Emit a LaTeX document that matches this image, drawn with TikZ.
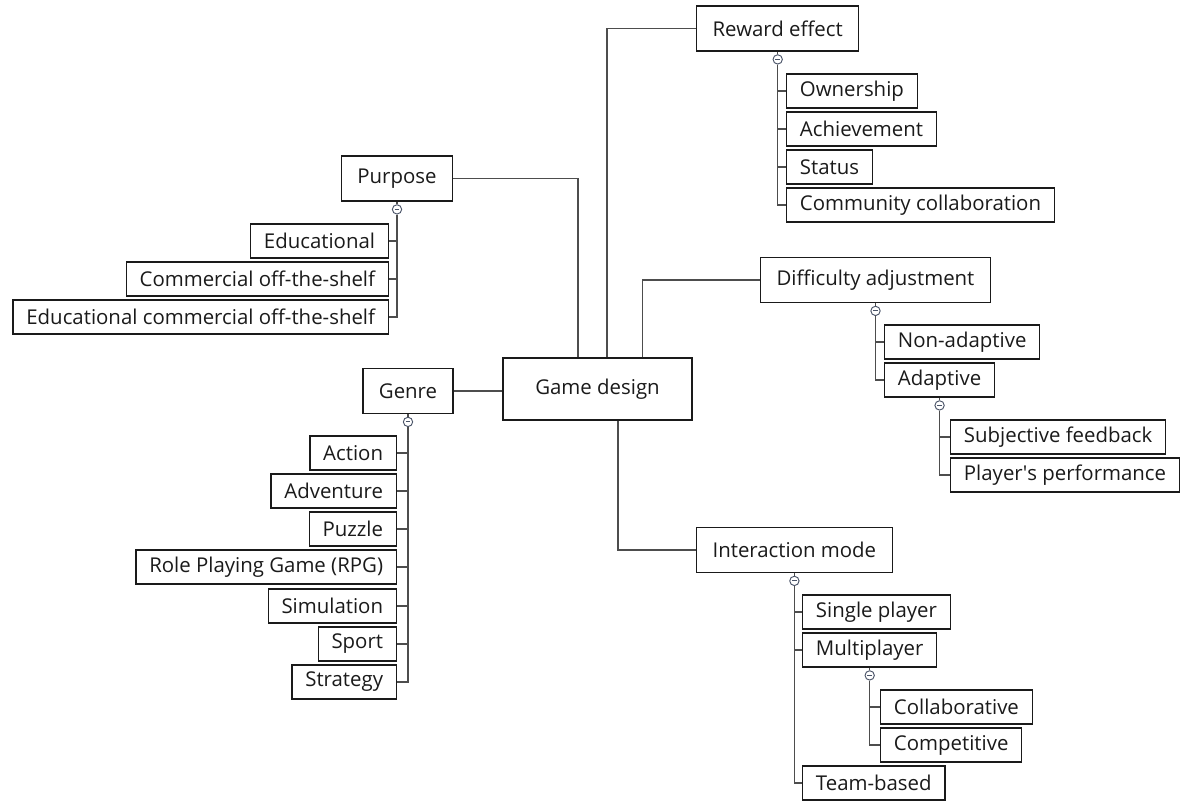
\documentclass[tikz,border=0pt]{standalone}
\usepackage{fontspec}
\setmainfont{Open Sans}
\usetikzlibrary{positioning}
\definecolor{mapInk}{HTML}{1A1A1A}
\definecolor{mapLine}{HTML}{4D4D4D}
\definecolor{mapToggle}{HTML}{4A5468}
\tikzset{
  every picture/.style={font=\fontsize{15.3}{18}\selectfont, text=mapInk},
  map core/.style={draw=mapInk, line width=0.9pt, minimum width=141.75pt,
    minimum height=46.5pt},
  map topic/.style={draw=mapInk, line width=0.9pt, minimum height=33.75pt,
    inner xsep=12pt},
  map leaf/.style={draw=mapInk, line width=0.9pt, minimum height=25.5pt,
    inner xsep=10pt},
  map link/.style={draw=mapLine, line width=0.9pt},
  map toggle/.style={circle, draw=mapToggle, fill=white, line width=0.7pt,
    inner sep=0pt, minimum size=7pt,
    path picture={\draw[mapToggle, line width=0.7pt]
      ([xshift=-1.8pt]path picture bounding box.center) --
      ([xshift=1.8pt]path picture bounding box.center);}}
}

\begin{document}
\begin{tikzpicture}[x=0.75pt,y=-0.75pt]
  \useasboundingbox (0,0) rectangle (1184,803);

  % centre
  \node[map core] (gd) at (597.5,389) {Game design};

  % reward effect
  \node[map topic, anchor=west] (rew) at (696,28.5) {Reward effect};
  \node[map leaf, anchor=west] (own) at (786,91) {Ownership};
  \node[map leaf, anchor=west] (ach) at (786,129) {Achievement};
  \node[map leaf, anchor=west] (sta) at (786,167) {Status};
  \node[map leaf, anchor=west] (com) at (786,205) {Community collaboration};

  % purpose
  \node[map topic] (pur) at (397,178.5) {Purpose};
  \node[map leaf, anchor=east] (edu) at (389,241) {Educational};
  \node[map leaf, anchor=east] (cots) at (389,279) {Commercial off-the-shelf};
  \node[map leaf, anchor=east] (ecots) at (389,317) {Educational commercial off-the-shelf};

  % genre
  \node[map topic] (gen) at (408,391) {Genre};
  \node[map leaf, anchor=east] (act) at (397,453) {Action};
  \node[map leaf, anchor=east] (adv) at (397,491) {Adventure};
  \node[map leaf, anchor=east] (puz) at (397,529) {Puzzle};
  \node[map leaf, anchor=east] (rpg) at (397,567) {Role Playing Game (RPG)};
  \node[map leaf, anchor=east] (sim) at (397,606) {Simulation};
  \node[map leaf, anchor=east] (spo) at (397,644) {Sport};
  \node[map leaf, anchor=east] (str) at (397,682) {Strategy};

  % difficulty adjustment
  \node[map topic, anchor=west] (dif) at (760,280) {Difficulty adjustment};
  \node[map leaf, anchor=west] (non) at (884,342) {Non-adaptive};
  \node[map leaf, anchor=west] (ada) at (884,380) {Adaptive};
  \node[map leaf, anchor=west] (sub) at (950,437) {Subjective feedback};
  \node[map leaf, anchor=west] (ply) at (950,475) {Player\textquotesingle s performance};

  % interaction mode
  \node[map topic, anchor=west] (int) at (696,550) {Interaction mode};
  \node[map leaf, anchor=west] (sin) at (802,612) {Single player};
  \node[map leaf, anchor=west] (mul) at (802,650) {Multiplayer};
  \node[map leaf, anchor=west] (col) at (880,707) {Collaborative};
  \node[map leaf, anchor=west] (cmp) at (880,745) {Competitive};
  \node[map leaf, anchor=west] (tea) at (802,783) {Team-based};

  % links from the centre
  \draw[map link] (pur) -| ([xshift=-14.6pt]gd.north);
  \draw[map link] ([xshift=7.1pt]gd.north) |- (rew);
  \draw[map link] ([xshift=34pt]gd.north) |- (dif);
  \draw[map link] ([xshift=15.4pt]gd.south) |- (int);
  \draw[map link] (gen.east) -- (gen.east -| gd.west);

  % branches
  \foreach \p/\kids in {rew/{own,ach,sta,com}, pur/{edu,cots,ecots},
      gen/{act,adv,puz,rpg,sim,spo,str}, dif/{non,ada}, ada/{sub,ply},
      int/{sin,mul,tea}, mul/{col,cmp}} {
    \node[map toggle, below=2pt of \p] (\p-t) {};
    \draw[map link] (\p) -- (\p-t);
    \foreach \c in \kids
      \draw[map link] (\p-t) |- (\c);
  }
\end{tikzpicture}
\end{document}
